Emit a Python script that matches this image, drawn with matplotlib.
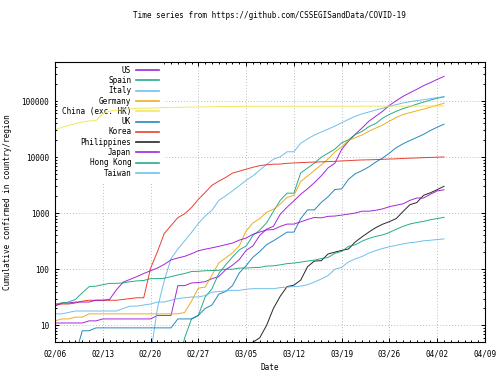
import matplotlib
matplotlib.use("Agg")
import matplotlib.pyplot as plt
import matplotlib.dates as mdates
from matplotlib.ticker import FixedLocator, LogLocator, NullFormatter, FuncFormatter
import pandas as pd

dates = pd.date_range("2020-02-06", "2020-04-03", freq="D")

us = [11, 11, 11, 11, 11, 12, 12, 13, 13, 13, 13, 13, 13, 13, 13, 15, 15, 15, 51, 51, 57, 58, 60, 68,
      74, 98, 118, 149, 217, 262, 402, 518, 583, 959, 1281, 1663, 2179, 2727, 3499, 4632, 6421, 7783,
      13747, 19273, 25600, 33276, 43847, 53740, 65778, 83836, 101657, 121465, 140909, 161831, 188172,
      213242, 243622, 275367]
spain = [1, 1, 1, 2, 2, 2, 2, 2, 2, 2, 2, 2, 2, 2, 2, 2, 2, 2, 2, 6, 13, 15, 32, 45,
         84, 120, 165, 222, 259, 400, 500, 673, 1073, 1695, 2277, 2277, 5232, 6391, 7798, 9942, 11748,
         13910, 17963, 20410, 25374, 28768, 35136, 39885, 49515, 57786, 65719, 73235, 80110, 87956, 95923,
         104118, 112065, 119199]
italy = [2, 3, 3, 3, 3, 3, 3, 3, 3, 3, 3, 3, 3, 3, 3, 20, 62, 155, 229, 322, 453, 655, 888, 1128,
         1694, 2036, 2502, 3089, 3858, 4636, 5883, 7375, 9172, 10149, 12462, 12462, 17660, 21157, 24747,
         27980, 31506, 35713, 41035, 47021, 53578, 59138, 63927, 69176, 74386, 80589, 86498, 92472, 97689,
         101739, 105792, 110574, 115242, 119827]
germany = [12, 13, 13, 14, 14, 16, 16, 16, 16, 16, 16, 16, 16, 16, 16, 16, 16, 16, 16, 17, 27, 46, 48, 79,
           130, 159, 196, 262, 482, 670, 799, 1040, 1176, 1457, 1908, 2078, 3675, 4585, 5795, 7272, 9257,
           12327, 15320, 19848, 22213, 24873, 29056, 32986, 37323, 43938, 50871, 57695, 62095, 66885, 71808,
           77872, 84794, 91159]
china = [30563, 34085, 36788, 39800, 42316, 44337, 44709, 59842, 66302, 68357, 70456, 72374, 74149, 74556,
         75009, 75482, 76932, 76948, 77162, 77670, 78075, 78508, 78834, 79261,
         79836, 80036, 80161, 80281, 80432, 80583, 80662, 80709, 80745, 80767, 80795, 80803, 80811, 80837,
         80858, 80878, 80896, 80910, 80948, 80994, 81032, 81118, 81142, 81205, 81251, 81329, 81379, 81417,
         81481, 81516, 81564, 81596, 81630, 81666]
uk = [2, 3, 3, 3, 8, 8, 9, 9, 9, 9, 9, 9, 9, 9, 9, 9, 9, 9, 13, 13, 13, 15, 20, 23,
      36, 40, 51, 86, 116, 164, 207, 274, 322, 384, 459, 459, 802, 1144, 1145, 1551, 1960, 2642, 2716,
      4014, 5067, 5745, 6726, 8164, 9640, 11812, 14745, 17312, 19780, 22453, 25481,
      29865, 34173, 38689]
korea = [23, 24, 24, 25, 27, 28, 28, 28, 28, 28, 29, 30, 31, 31, 104, 204, 433, 602, 833, 977, 1261, 1766,
         2337, 3150,
         3736, 4335, 5186, 5621, 6088, 6593, 7041, 7314, 7478, 7513, 7755, 7869, 7979, 8086, 8162, 8236,
         8320, 8413, 8565, 8652, 8799, 8897, 8961, 9037, 9137, 9241, 9332, 9478, 9583, 9661, 9786,
         9887, 9976, 10062]
philippines = [3, 3, 3, 3, 3, 3, 3, 3, 3, 3, 3, 3, 3, 3, 3, 3, 3, 3, 3, 3, 3, 3, 3, 3,
               3, 3, 3, 3, 3, 5, 6, 10, 20, 33, 49, 52, 64, 111, 140, 142, 187, 202, 217, 230, 307, 380,
               462, 552, 636, 707, 803, 1075, 1418, 1546, 2084,
               2311, 2633, 3018]
japan = [22, 25, 25, 26, 26, 26, 28, 28, 29, 43, 59, 66, 74, 84, 94, 105, 122, 147, 159, 170, 189, 214, 228, 241,
         256, 274, 293, 331, 360, 420, 461, 502, 511, 581, 639, 639, 701, 773, 839, 825, 878, 889, 924, 963,
         1007, 1086, 1086, 1128, 1193, 1307, 1387, 1468, 1693, 1866, 1866,
         2178, 2495, 2617]
hongkong = [24, 25, 26, 29, 38, 49, 50, 53, 56, 56, 57, 60, 62, 63, 68, 68, 69, 74, 79, 84, 91, 92, 94, 95,
            96, 100, 100, 105, 105, 107, 108, 114, 115, 120, 126, 129, 134, 140, 145, 155, 162, 192, 208, 256,
            273, 317, 356, 386, 410, 453, 518, 582, 641, 682, 715,
            765, 802, 845]
taiwan = [16, 16, 17, 18, 18, 18, 18, 18, 18, 18, 20, 22, 22, 23, 24, 26, 26, 28, 30, 31, 32, 32, 34, 39,
          40, 41, 42, 42, 44, 45, 45, 45, 45, 47, 48, 49, 50, 53, 59, 67, 77, 100, 108, 135, 153, 169, 195,
          215, 235, 252, 267, 283, 298, 306, 322,
          329, 339, 348]

labels = ["US", "Spain", "Italy", "Germany", "China (exc. HK)", "UK", "Korea", "Philippines",
          "Japan", "Hong Kong", "Taiwan"]
series = [us, spain, italy, germany, china, uk, korea, philippines, japan, hongkong, taiwan]
colors = ["#9400d3", "#009e73", "#56b4e9", "#e69f00", "#f0e442", "#0072b2", "#e51e10", "#000000",
          "#9400d3", "#009e73", "#56b4e9"]

xticks = pd.date_range("2020-02-06", "2020-04-09", freq="7D")

FONT = "DejaVu Sans Mono"
FS = 5.5
plt.rcParams["font.family"] = [FONT]
plt.rcParams["font.size"] = FS

fig = plt.figure(figsize=(5, 3.75), dpi=100)
ax = fig.add_axes([0.11, 0.0875, 0.86, 0.7475])

for lab, vals, col in zip(labels, series, colors):
    ax.plot(dates, vals, color=col, lw=0.7, alpha=0.85, label=lab, zorder=2)

ax.set_yscale("log")
ax.set_ylim(5, 500000)
ax.set_xlim(pd.Timestamp("2020-02-06"), pd.Timestamp("2020-04-09"))

ax.xaxis.set_major_locator(FixedLocator(mdates.date2num(xticks)))
ax.xaxis.set_major_formatter(mdates.DateFormatter("%m/%d"))
ax.xaxis.set_minor_locator(mdates.DayLocator())
ax.yaxis.set_major_locator(LogLocator(base=10, numticks=10))
ax.yaxis.set_major_formatter(FuncFormatter(lambda v, p: "%d" % round(v)))
ax.yaxis.set_minor_locator(LogLocator(base=10, subs=range(2, 10), numticks=20))
ax.yaxis.set_minor_formatter(NullFormatter())

ax.tick_params(which="both", direction="in", top=True, right=True, labelsize=FS, color="black")
ax.tick_params(which="major", length=3.2, width=0.7)
ax.tick_params(which="minor", length=1.6, width=0.7)
ax.tick_params(axis="y", pad=4.2)
ax.tick_params(axis="x", pad=5.0)
for s in ax.spines.values():
    s.set_linewidth(0.8)
    s.set_color("black")

ax.set_axisbelow(True)
ax.grid(True, which="major", color="#a8a8a8", lw=0.6, linestyle=(0, (1, 2.5)))

ax.set_xlabel("Date")
ax.xaxis.set_label_coords(0.5, -0.0905)
ax.xaxis.label.set_va("center")
ax.set_ylabel("Cumulative confirmed in country/region")
ax.yaxis.set_label_coords(-0.11, 0.5)
ax.yaxis.label.set_va("center")

fig.text(0.538, 1 - 15.7 / 375, "Time series from https://github.com/CSSEGISandData/COVID-19",
         ha="center", va="center", fontsize=FS)

leg = ax.legend(loc="upper right", bbox_to_anchor=(0.25, 1.0), markerfirst=False, frameon=True,
                fancybox=False, edgecolor="white", facecolor="white", framealpha=1, borderaxespad=0,
                handlelength=2.95, handletextpad=0.65, labelspacing=0.17, borderpad=0.5, fontsize=FS)
leg.set_zorder(1.5)
for l in leg.get_lines():
    l.set_linewidth(1.2)

fig.savefig("out.png", dpi=100)
